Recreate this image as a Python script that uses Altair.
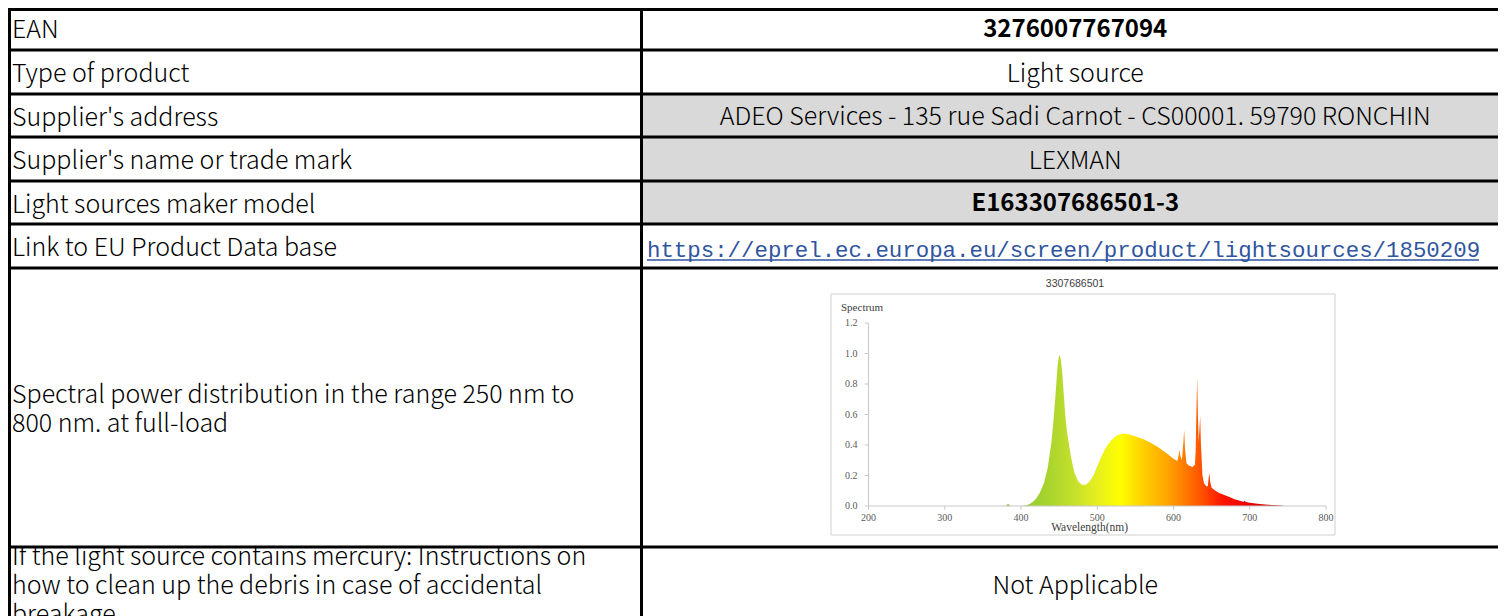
import altair as alt
import pandas as pd

# ---------------- page geometry (layout only) ----------------
W, H = 1490, 608
X0, Y0 = 8, 8

# ---------------- table content ----------------
labels = [
    "EAN",
    "Type of product",
    "Supplier's address",
    "Supplier's name or trade mark",
    "Light sources maker model",
    "Link to EU Product Data base",
    "Spectral power distribution in the range 250 nm to\n800 nm. at full-load",
    "If the light source contains mercury: Instructions on\nhow to clean up the debris in case of accidental\nbreakage",
]
cells = [
    "3276007767094",
    "Light source",
    "ADEO Services - 135 rue Sadi Carnot - CS00001. 59790 RONCHIN",
    "LEXMAN",
    "E163307686501-3",
    "https://eprel.ec.europa.eu/screen/product/lightsources/1850209",
    "",
    "Not Applicable",
]
cell_kind = ["bold", "normal", "normal", "normal", "bold", "link", "chart", "normal"]
shaded = [False, False, True, True, True, False, False, False]
row_top = [6, 50, 94, 137, 181, 224, 268, 547]
row_bot = [50, 94, 137, 181, 224, 268, 547, 621]

COL_L, COL_SPLIT, COL_R = 9.5, 641.5, 1506
LINE_H = 29

# ---------------- spectrum content ----------------
chart_title = "3307686501"
wavelength = [380, 382, 384, 386, 400, 405, 410, 415, 420, 425, 430, 435, 440, 443, 446,
              448, 450, 452, 454, 456, 458, 460, 463, 466, 470, 475, 480, 485, 490, 495,
              500, 505, 510, 515, 520, 525, 530, 535, 540, 545, 550, 560, 570, 580, 590,
              600, 605, 607, 608, 609, 611, 613, 614, 615, 617, 620, 625, 628, 629, 630,
              631, 632, 633, 634, 635, 636, 638, 640, 643, 645, 646, 647, 648, 650, 655,
              660, 665, 670, 675, 680, 685, 690, 692, 693, 695, 700, 710, 720, 730, 740, 745]
spectrum = [0.0, 0.012, 0.012, 0.0, 0.0, 0.003, 0.01, 0.025, 0.05, 0.09, 0.15, 0.25, 0.42, 0.58, 0.78,
            0.92, 0.99, 0.97, 0.88, 0.74, 0.6, 0.5, 0.4, 0.31, 0.22, 0.16, 0.14, 0.14, 0.16, 0.2,
            0.26, 0.32, 0.37, 0.41, 0.44, 0.46, 0.47, 0.475, 0.47, 0.465, 0.455, 0.44, 0.415, 0.385, 0.35,
            0.31, 0.295, 0.34, 0.37, 0.33, 0.3, 0.42, 0.5, 0.38, 0.28, 0.265, 0.255, 0.27, 0.35, 0.6,
            0.84, 0.6, 0.42, 0.5, 0.59, 0.4, 0.2, 0.15, 0.13, 0.13, 0.18, 0.22, 0.16, 0.12, 0.1,
            0.085, 0.075, 0.065, 0.055, 0.045, 0.037, 0.03, 0.028, 0.035, 0.026, 0.022, 0.015, 0.01, 0.006, 0.003, 0.0]
x_ticks = [200, 300, 400, 500, 600, 700, 800]
y_ticks = [0.0, 0.2, 0.4, 0.6, 0.8, 1.0, 1.2]
y_tick_labels = ["0.0", "0.2", "0.4", "0.6", "0.8", "1.0", "1.2"]
grad_wl = [380, 430, 470, 500, 530, 560, 590, 615, 640, 665, 700, 745]
grad_col = ["#8cc63f", "#a4d22e", "#c6e02c", "#e6ef1e", "#ffff00", "#ffd000", "#ffa800",
            "#ff7a00", "#ff4a00", "#ff1400", "#e80000", "#c80000"]

# spectrum placement (pixels in page): 200nm -> 868.5, 800nm -> 1326 ; 0 -> 506, 1.0 -> 353.5
PX_200, PX_PER_NM = 868.5, 0.7625
PY_0, PY_PER_UNIT = 506.0, 152.5

# ---------------- scales ----------------
px = alt.Scale(domain=[X0, X0 + W], nice=False, zero=False)
py = alt.Scale(domain=[Y0, Y0 + H], nice=False, zero=False, reverse=True)
sx = alt.Scale(domain=[200 + (X0 - PX_200) / PX_PER_NM, 200 + (X0 + W - PX_200) / PX_PER_NM],
               nice=False, zero=False)
sy = alt.Scale(domain=[(PY_0 - Y0 - H) / PY_PER_UNIT, (PY_0 - Y0) / PY_PER_UNIT],
               nice=False, zero=False)

FONT = "Noto Sans CJK SC"
FS = 25

rows = pd.DataFrame({
    "label": labels, "cell": cells, "kind": cell_kind, "shaded": shaded,
    "top": row_top, "bot": row_bot,
})
rows["mid"] = (rows["top"] + rows["bot"]) / 2
rows["nlines"] = [len(s.split("\n")) for s in labels]
rows["ylab"] = rows["mid"] - (rows["nlines"] - 1) * LINE_H / 2
rows["xl"] = COL_L + 2.5
rows["xs"] = COL_SPLIT + 1.5
rows["xr"] = COL_R
rows["xc"] = (COL_SPLIT + COL_R) / 2 + 1.5
rows["xlink"] = COL_SPLIT + 5.5

base = alt.Chart(rows)

gray = base.transform_filter("datum.shaded").mark_rect(color="#d9d9d9").encode(
    x=alt.X("xs:Q", scale=px, axis=None), x2="xr:Q",
    y=alt.Y("top:Q", scale=py, axis=None), y2="bot:Q")

left_text = base.mark_text(align="left", baseline="middle", font=FONT, fontSize=FS,
                           fontWeight=300, lineBreak="\n", lineHeight=LINE_H, dy=2,
                           color="#000000").encode(
    x=alt.X("xl:Q", scale=px, axis=None), y=alt.Y("ylab:Q", scale=py, axis=None), text="label:N")

norm_text = base.transform_filter("datum.kind == 'normal'").mark_text(
    align="center", baseline="middle", font=FONT, fontSize=FS, fontWeight=300, dy=1.5,
    color="#000000").encode(
    x=alt.X("xc:Q", scale=px, axis=None), y=alt.Y("mid:Q", scale=py, axis=None), text="cell:N")

bold_text = base.transform_filter("datum.kind == 'bold'").mark_text(
    align="center", baseline="middle", font=FONT, fontSize=24, fontWeight="bold", dy=1.5,
    color="#000000").encode(
    x=alt.X("xc:Q", scale=px, axis=None), y=alt.Y("mid:Q", scale=py, axis=None), text="cell:N")

link_text = base.transform_filter("datum.kind == 'link'").mark_text(
    align="left", baseline="alphabetic", font="Liberation Mono", fontSize=22.4,
    color="#2f55a0").encode(
    x=alt.X("xlink:Q", scale=px, axis=None),
    y=alt.Y("bot:Q", scale=py, axis=None), yOffset=alt.value(-11), text="cell:N")

link_line = base.transform_filter("datum.kind == 'link'").transform_calculate(
    xe="datum.xlink + 832", yu="datum.bot - 8").mark_rule(color="#2f55a0", strokeWidth=1.5).encode(
    x=alt.X("xlink:Q", scale=px, axis=None), x2="xe:Q",
    y=alt.Y("yu:Q", scale=py, axis=None))

# white mask: overflowing label text is hidden above its cell
mask = base.transform_filter("datum.nlines > 2").transform_calculate(
    y1="datum.top - 20", x2c="datum.xs - 3").mark_rect(color="white").encode(
    x=alt.X("xl:Q", scale=px, axis=None), x2="x2c:Q",
    y=alt.Y("y1:Q", scale=py, axis=None), y2="top:Q")

hl = pd.DataFrame({"y": [9.5] + row_top[1:], "x": X0, "x2": COL_R})
hlines = alt.Chart(hl).mark_rule(color="#000000", strokeWidth=3).encode(
    x=alt.X("x:Q", scale=px, axis=None), x2="x2:Q", y=alt.Y("y:Q", scale=py, axis=None))

vl = pd.DataFrame({"x": [COL_L, COL_SPLIT], "y": Y0, "y2": Y0 + H})
vlines = alt.Chart(vl).mark_rule(color="#000000", strokeWidth=3).encode(
    x=alt.X("x:Q", scale=px, axis=None), y=alt.Y("y:Q", scale=py, axis=None), y2="y2:Q")

frame_df = pd.DataFrame({"x": [831], "x2": [1335], "y": [294], "y2": [535],
                         "tx": [1075], "ty": [284], "title": [chart_title]})
frame = alt.Chart(frame_df).mark_rect(fill="white", stroke="#d0d0d0", strokeWidth=1).encode(
    x=alt.X("x:Q", scale=px, axis=None), x2="x2:Q", y=alt.Y("y:Q", scale=py, axis=None), y2="y2:Q")
ftitle = alt.Chart(frame_df).mark_text(font="Liberation Sans", fontSize=10.5, color="#404040",
                                       baseline="middle").encode(
    x=alt.X("tx:Q", scale=px, axis=None), y=alt.Y("ty:Q", scale=py, axis=None), text="title:N")

table = alt.layer(gray, frame, ftitle, left_text, norm_text, bold_text, link_text, link_line,
                  mask, hlines, vlines)

# ---------------- spectrum ----------------
spec = pd.DataFrame({"wl": wavelength, "val": spectrum})
wmin, wmax = min(wavelength), max(wavelength)
stops = [alt.GradientStop(color=c, offset=(w - wmin) / (wmax - wmin)) for w, c in zip(grad_wl, grad_col)]
area = alt.Chart(spec).mark_area(
    color=alt.Gradient(gradient="linear", stops=stops, x1=0, x2=1, y1=0, y2=0),
    interpolate="linear").encode(
    x=alt.X("wl:Q", scale=sx, axis=None), y=alt.Y("val:Q", scale=sy, axis=None), y2=alt.datum(0))

AX = "#c8c8c8"
ax_df = pd.DataFrame({"x": [x_ticks[0], x_ticks[0]], "x2": [x_ticks[-1], x_ticks[0]],
                      "y": [0.0, y_ticks[0]], "y2": [0.0, y_ticks[-1]]})
axes = alt.Chart(ax_df).mark_rule(color=AX, strokeWidth=1).encode(
    x=alt.X("x:Q", scale=sx, axis=None), x2="x2:Q", y=alt.Y("y:Q", scale=sy, axis=None), y2="y2:Q")

xt = pd.DataFrame({"x": x_ticks, "lab": [str(t) for t in x_ticks]})
xticks = alt.Chart(xt).mark_rule(color=AX).encode(
    x=alt.X("x:Q", scale=sx, axis=None), y=alt.Y("datum_y:Q", scale=sy, axis=None),
    y2="datum_y2:Q").transform_calculate(datum_y="0", datum_y2="-0.025")
xlabels = alt.Chart(xt).mark_text(font="Liberation Serif", fontSize=10, color="#595959",
                                  baseline="middle", dy=12).encode(
    x=alt.X("x:Q", scale=sx, axis=None), y=alt.Y("y0:Q", scale=sy, axis=None),
    text="lab:N").transform_calculate(y0="0")

yt = pd.DataFrame({"y": y_ticks, "lab": y_tick_labels})
yticks = alt.Chart(yt).mark_rule(color=AX).encode(
    x=alt.X("x0:Q", scale=sx, axis=None), x2="x1:Q",
    y=alt.Y("y:Q", scale=sy, axis=None)).transform_calculate(x0="200", x1="195")
ylabels = alt.Chart(yt).mark_text(font="Liberation Serif", fontSize=10, color="#595959",
                                  align="right", baseline="middle", dx=-11).encode(
    x=alt.X("x0:Q", scale=sx, axis=None), y=alt.Y("y:Q", scale=sy, axis=None),
    text="lab:N").transform_calculate(x0="200")

ttl = pd.DataFrame({"x": [490, 200], "y": [0.0, 1.2], "t": ["Wavelength(nm)", "Spectrum"]})
xtitle = alt.Chart(ttl).transform_filter("datum.t == 'Wavelength(nm)'").mark_text(
    font="Liberation Serif", fontSize=11.5, color="#404040", baseline="middle", dy=22).encode(
    x=alt.X("x:Q", scale=sx, axis=None), y=alt.Y("y:Q", scale=sy, axis=None), text="t:N")
ytitle = alt.Chart(ttl).transform_filter("datum.t == 'Spectrum'").mark_text(
    font="Liberation Serif", fontSize=11, color="#404040", align="left", baseline="middle",
    dx=-27.5, dy=-15).encode(
    x=alt.X("x:Q", scale=sx, axis=None), y=alt.Y("y:Q", scale=sy, axis=None), text="t:N")

spectrum_layer = alt.layer(area, axes, xticks, yticks, xlabels, ylabels, xtitle, ytitle)

chart = alt.layer(table, spectrum_layer).resolve_scale(
    x="independent", y="independent"
).properties(
    width=W, height=H, padding=0, autosize="none", background="white"
).configure_view(stroke=None)

chart.save("out.html", embed_options={"renderer": "svg", "actions": False})
